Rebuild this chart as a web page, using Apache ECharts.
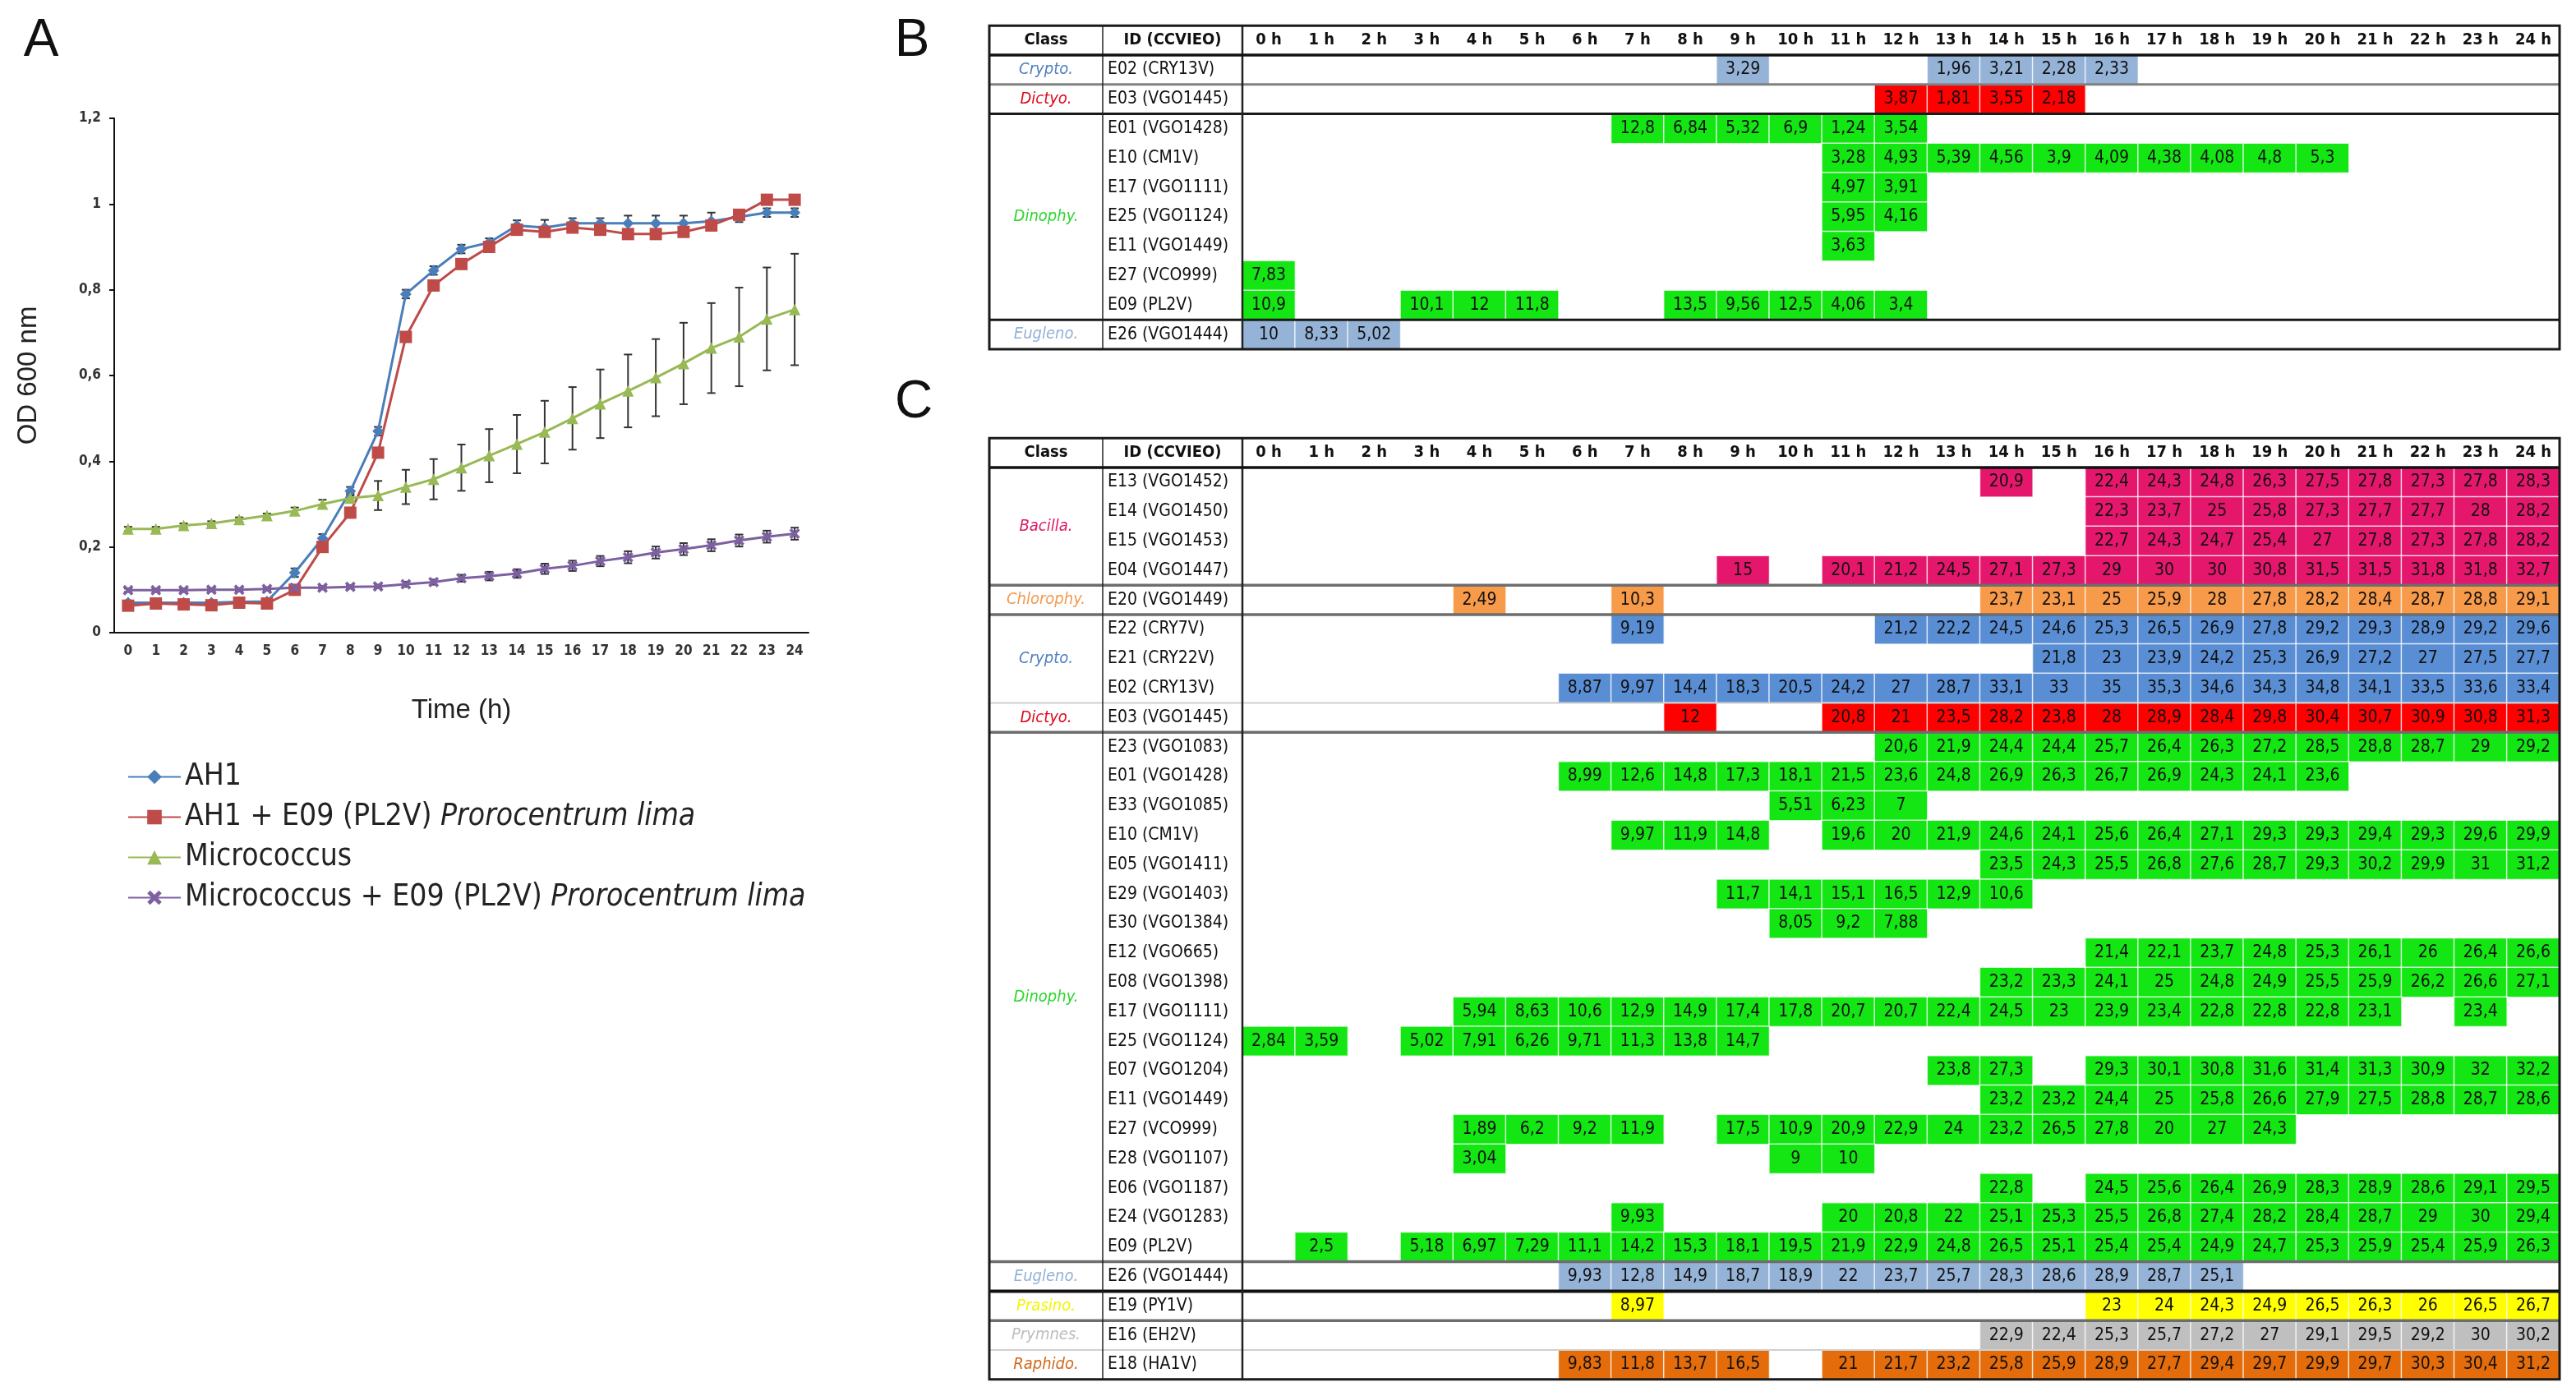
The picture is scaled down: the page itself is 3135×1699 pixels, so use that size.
<!DOCTYPE html>
<html>
<head>
<meta charset="utf-8">
<script src="https://cdn.jsdelivr.net/npm/echarts@6/dist/echarts.min.js"></script>
<style>
  html, body { margin: 0; background: #fff; }
  #main { width: 3135px; height: 1699px; }
</style>
</head>
<body>
<div id="main"></div>
<script>
// ---------- panel A : growth curves ----------
const timeTicks = ['0','1','2','3','4','5','6','7','8','9','10','11','12','13','14','15','16','17','18','19','20','21','22','23','24'];
const ah1 = [0.07,0.07,0.07,0.07,0.072,0.073,0.14,0.22,0.33,0.47,0.79,0.845,0.895,0.91,0.95,0.945,0.955,0.955,0.955,0.955,0.955,0.96,0.97,0.98,0.98];
const ah1Err = [0,0,0,0,0,0,0.01,0.01,0.01,0.01,0.01,0.01,0.01,0.01,0.012,0.018,0.012,0.012,0.018,0.018,0.018,0.02,0.012,0.01,0.01];
const ah1E09 = [0.063,0.068,0.066,0.064,0.07,0.068,0.1,0.2,0.28,0.42,0.69,0.81,0.86,0.9,0.94,0.935,0.945,0.94,0.93,0.93,0.935,0.95,0.975,1.01,1.01];
const micro = [0.242,0.242,0.25,0.255,0.264,0.273,0.284,0.3,0.314,0.32,0.34,0.358,0.385,0.413,0.44,0.468,0.5,0.534,0.564,0.595,0.628,0.664,0.69,0.732,0.754];
const microErr = [0.005,0.005,0.005,0.005,0.005,0.005,0.008,0.01,0.01,0.034,0.04,0.047,0.054,0.062,0.068,0.073,0.073,0.08,0.085,0.09,0.095,0.105,0.115,0.12,0.13];
const microE09 = [0.099,0.099,0.099,0.1,0.1,0.102,0.105,0.105,0.107,0.108,0.113,0.118,0.127,0.132,0.138,0.149,0.156,0.167,0.176,0.187,0.195,0.204,0.215,0.224,0.231];
const microE09Err = [0.004,0.004,0.004,0.004,0.004,0.004,0.004,0.004,0.004,0.004,0.006,0.006,0.008,0.01,0.01,0.012,0.012,0.012,0.014,0.014,0.014,0.014,0.014,0.014,0.014];
const seriesNames = ['AH1', 'AH1 + E09 (PL2V) Prorocentrum lima', 'Micrococcus', 'Micrococcus + E09 (PL2V) Prorocentrum lima'];

// ---------- tables B and C ----------
const hourLabels = ['0 h','1 h','2 h','3 h','4 h','5 h','6 h','7 h','8 h','9 h','10 h','11 h','12 h','13 h','14 h','15 h','16 h','17 h','18 h','19 h','20 h','21 h','22 h','23 h','24 h'];
const _ = null;

const bIds = ['E02 (CRY13V)','E03 (VGO1445)','E01 (VGO1428)','E10 (CM1V)','E17 (VGO1111)','E25 (VGO1124)','E11 (VGO1449)','E27 (VCO999)','E09 (PL2V)','E26 (VGO1444)'];
const bClass = ['Crypto.','Dictyo.','Dinophy.','Dinophy.','Dinophy.','Dinophy.','Dinophy.','Dinophy.','Dinophy.','Eugleno.'];
const bValues = [
  [_,_,_,_,_,_,_,_,_,3.29,_,_,_,1.96,3.21,2.28,2.33,_,_,_,_,_,_,_,_],
  [_,_,_,_,_,_,_,_,_,_,_,_,3.87,1.81,3.55,2.18,_,_,_,_,_,_,_,_,_],
  [_,_,_,_,_,_,_,12.8,6.84,5.32,6.9,1.24,3.54,_,_,_,_,_,_,_,_,_,_,_,_],
  [_,_,_,_,_,_,_,_,_,_,_,3.28,4.93,5.39,4.56,3.9,4.09,4.38,4.08,4.8,5.3,_,_,_,_],
  [_,_,_,_,_,_,_,_,_,_,_,4.97,3.91,_,_,_,_,_,_,_,_,_,_,_,_],
  [_,_,_,_,_,_,_,_,_,_,_,5.95,4.16,_,_,_,_,_,_,_,_,_,_,_,_],
  [_,_,_,_,_,_,_,_,_,_,_,3.63,_,_,_,_,_,_,_,_,_,_,_,_,_],
  [7.83,_,_,_,_,_,_,_,_,_,_,_,_,_,_,_,_,_,_,_,_,_,_,_,_],
  [10.9,_,_,10.1,12,11.8,_,_,13.5,9.56,12.5,4.06,3.4,_,_,_,_,_,_,_,_,_,_,_,_],
  [10,8.33,5.02,_,_,_,_,_,_,_,_,_,_,_,_,_,_,_,_,_,_,_,_,_,_]
];

const cIds = ['E13 (VGO1452)','E14 (VGO1450)','E15 (VGO1453)','E04 (VGO1447)','E20 (VGO1449)','E22 (CRY7V)','E21 (CRY22V)','E02 (CRY13V)','E03 (VGO1445)',
  'E23 (VGO1083)','E01 (VGO1428)','E33 (VGO1085)','E10 (CM1V)','E05 (VGO1411)','E29 (VGO1403)','E30 (VGO1384)','E12 (VGO665)','E08 (VGO1398)','E17 (VGO1111)',
  'E25 (VGO1124)','E07 (VGO1204)','E11 (VGO1449)','E27 (VCO999)','E28 (VGO1107)','E06 (VGO1187)','E24 (VGO1283)','E09 (PL2V)','E26 (VGO1444)','E19 (PY1V)','E16 (EH2V)','E18 (HA1V)'];
const cClass = ['Bacilla.','Bacilla.','Bacilla.','Bacilla.','Chlorophy.','Crypto.','Crypto.','Crypto.','Dictyo.',
  'Dinophy.','Dinophy.','Dinophy.','Dinophy.','Dinophy.','Dinophy.','Dinophy.','Dinophy.','Dinophy.','Dinophy.',
  'Dinophy.','Dinophy.','Dinophy.','Dinophy.','Dinophy.','Dinophy.','Dinophy.','Dinophy.','Eugleno.','Prasino.','Prymnes.','Raphido.'];
const cValues = [
  [_,_,_,_,_,_,_,_,_,_,_,_,_,_,20.9,_,22.4,24.3,24.8,26.3,27.5,27.8,27.3,27.8,28.3],
  [_,_,_,_,_,_,_,_,_,_,_,_,_,_,_,_,22.3,23.7,25,25.8,27.3,27.7,27.7,28,28.2],
  [_,_,_,_,_,_,_,_,_,_,_,_,_,_,_,_,22.7,24.3,24.7,25.4,27,27.8,27.3,27.8,28.2],
  [_,_,_,_,_,_,_,_,_,15,_,20.1,21.2,24.5,27.1,27.3,29,30,30,30.8,31.5,31.5,31.8,31.8,32.7],
  [_,_,_,_,2.49,_,_,10.3,_,_,_,_,_,_,23.7,23.1,25,25.9,28,27.8,28.2,28.4,28.7,28.8,29.1],
  [_,_,_,_,_,_,_,9.19,_,_,_,_,21.2,22.2,24.5,24.6,25.3,26.5,26.9,27.8,29.2,29.3,28.9,29.2,29.6],
  [_,_,_,_,_,_,_,_,_,_,_,_,_,_,_,21.8,23,23.9,24.2,25.3,26.9,27.2,27,27.5,27.7],
  [_,_,_,_,_,_,8.87,9.97,14.4,18.3,20.5,24.2,27,28.7,33.1,33,35,35.3,34.6,34.3,34.8,34.1,33.5,33.6,33.4],
  [_,_,_,_,_,_,_,_,12,_,_,20.8,21,23.5,28.2,23.8,28,28.9,28.4,29.8,30.4,30.7,30.9,30.8,31.3],
  [_,_,_,_,_,_,_,_,_,_,_,_,20.6,21.9,24.4,24.4,25.7,26.4,26.3,27.2,28.5,28.8,28.7,29,29.2],
  [_,_,_,_,_,_,8.99,12.6,14.8,17.3,18.1,21.5,23.6,24.8,26.9,26.3,26.7,26.9,24.3,24.1,23.6,_,_,_,_],
  [_,_,_,_,_,_,_,_,_,_,5.51,6.23,7,_,_,_,_,_,_,_,_,_,_,_,_],
  [_,_,_,_,_,_,_,9.97,11.9,14.8,_,19.6,20,21.9,24.6,24.1,25.6,26.4,27.1,29.3,29.3,29.4,29.3,29.6,29.9],
  [_,_,_,_,_,_,_,_,_,_,_,_,_,_,23.5,24.3,25.5,26.8,27.6,28.7,29.3,30.2,29.9,31,31.2],
  [_,_,_,_,_,_,_,_,_,11.7,14.1,15.1,16.5,12.9,10.6,_,_,_,_,_,_,_,_,_,_],
  [_,_,_,_,_,_,_,_,_,_,8.05,9.2,7.88,_,_,_,_,_,_,_,_,_,_,_,_],
  [_,_,_,_,_,_,_,_,_,_,_,_,_,_,_,_,21.4,22.1,23.7,24.8,25.3,26.1,26,26.4,26.6],
  [_,_,_,_,_,_,_,_,_,_,_,_,_,_,23.2,23.3,24.1,25,24.8,24.9,25.5,25.9,26.2,26.6,27.1],
  [_,_,_,_,5.94,8.63,10.6,12.9,14.9,17.4,17.8,20.7,20.7,22.4,24.5,23,23.9,23.4,22.8,22.8,22.8,23.1,_,23.4,_],
  [2.84,3.59,_,5.02,7.91,6.26,9.71,11.3,13.8,14.7,_,_,_,_,_,_,_,_,_,_,_,_,_,_,_],
  [_,_,_,_,_,_,_,_,_,_,_,_,_,23.8,27.3,_,29.3,30.1,30.8,31.6,31.4,31.3,30.9,32,32.2],
  [_,_,_,_,_,_,_,_,_,_,_,_,_,_,23.2,23.2,24.4,25,25.8,26.6,27.9,27.5,28.8,28.7,28.6],
  [_,_,_,_,1.89,6.2,9.2,11.9,_,17.5,10.9,20.9,22.9,24.0,23.2,26.5,27.8,20,27.0,24.3,_,_,_,_,_],
  [_,_,_,_,3.04,_,_,_,_,_,9,10,_,_,_,_,_,_,_,_,_,_,_,_,_],
  [_,_,_,_,_,_,_,_,_,_,_,_,_,_,22.8,_,24.5,25.6,26.4,26.9,28.3,28.9,28.6,29.1,29.5],
  [_,_,_,_,_,_,_,9.93,_,_,_,20,20.8,22,25.1,25.3,25.5,26.8,27.4,28.2,28.4,28.7,29,30,29.4],
  [_,2.5,_,5.18,6.97,7.29,11.1,14.2,15.3,18.1,19.5,21.9,22.9,24.8,26.5,25.1,25.4,25.4,24.9,24.7,25.3,25.9,25.4,25.9,26.3],
  [_,_,_,_,_,_,9.93,12.8,14.9,18.7,18.9,22,23.7,25.7,28.3,28.6,28.9,28.7,25.1,_,_,_,_,_,_],
  [_,_,_,_,_,_,_,8.97,_,_,_,_,_,_,_,_,23,24,24.3,24.9,26.5,26.3,26,26.5,26.7],
  [_,_,_,_,_,_,_,_,_,_,_,_,_,_,22.9,22.4,25.3,25.7,27.2,27,29.1,29.5,29.2,30,30.2],
  [_,_,_,_,_,_,9.83,11.8,13.7,16.5,_,21,21.7,23.2,25.8,25.9,28.9,27.7,29.4,29.7,29.9,29.7,30.3,30.4,31.2]
];

// ---------- styling ----------
const NARROW = "'Liberation Sans Narrow', 'DejaVu Sans Condensed', 'Liberation Sans', sans-serif";
const SANS = "'Liberation Sans', Arial, sans-serif";
const cellColor = {
  'Bacilla.': '#e5176c', 'Chlorophy.': '#f79a4a', 'Crypto.': '#5a8ed4', 'Dictyo.': '#fe0000',
  'Dinophy.': '#14e614', 'Eugleno.': '#95b3d7', 'Prasino.': '#ffff00', 'Prymnes.': '#bfbfbf', 'Raphido.': '#e46c0a'
};
const cellColorB = Object.assign({}, cellColor, { 'Crypto.': '#95b3d7' });
const labelColor = {
  'Bacilla.': '#dc1a66', 'Chlorophy.': '#f29a4e', 'Crypto.': '#4f7fc0', 'Dictyo.': '#dd0a1e',
  'Dinophy.': '#2fd62f', 'Eugleno.': '#93b1d6', 'Prasino.': '#f5f500', 'Prymnes.': '#bdbdbd', 'Raphido.': '#d2691e'
};
const fmt = v => String(v).replace('.', ',');

function heatData(values, classes, colors) {
  const out = [];
  values.forEach((row, r) => row.forEach((v, h) => {
    if (v !== null) out.push({ value: [h, r, v], itemStyle: { color: colors[classes[r]] } });
  }));
  return out;
}

function withErr(mean, err) {
  return mean.map((m, i) => [i, m - err[i], m + err[i]]);
}

function errorBars(color) {
  return function (params, api) {
    const x = api.value(0);
    const lo = api.coord([x, api.value(1)]);
    const hi = api.coord([x, api.value(2)]);
    const w = 5;
    const st = { stroke: color, lineWidth: 2 };
    return { type: 'group', children: [
      { type: 'line', shape: { x1: lo[0], y1: lo[1], x2: hi[0], y2: hi[1] }, style: st },
      { type: 'line', shape: { x1: hi[0] - w, y1: hi[1], x2: hi[0] + w, y2: hi[1] }, style: st },
      { type: 'line', shape: { x1: lo[0] - w, y1: lo[1], x2: lo[0] + w, y2: lo[1] }, style: st }
    ] };
  };
}

const lineColors = ['#4a7ebb', '#be4b48', '#98b954', '#7d60a0'];
const xSymbol = 'path://M2,0 L5,3 L8,0 L10,2 L7,5 L10,8 L8,10 L5,7 L2,10 L0,8 L3,5 L0,2 Z';

const tableX = { left: 1204, classRight: 1342, idRight: 1512, width: 1603 };
const ROW = 35.8;

function tableAxes(gi, ids) {
  return {
    x: { type: 'category', gridIndex: gi, data: hourLabels, position: 'top',
      axisLine: { show: false }, axisTick: { show: false }, splitLine: { show: false },
      axisLabel: { margin: ROW / 2, verticalAlign: 'middle', fontFamily: NARROW, fontWeight: 'bold', fontSize: 20, color: '#111' } },
    y: { type: 'category', gridIndex: gi, data: ids, inverse: true,
      axisLine: { show: false }, axisTick: { show: false }, splitLine: { show: false },
      axisLabel: { align: 'left', margin: tableX.idRight - tableX.classRight - 6, fontFamily: NARROW, fontSize: 21, color: '#111' } }
  };
}

const tb = tableAxes(1, bIds);
const tc = tableAxes(2, cIds);

function heatSeries(gi, data) {
  return {
    type: 'heatmap', xAxisIndex: gi, yAxisIndex: gi, data: data,
    itemStyle: { borderColor: 'rgba(255,255,255,0.75)', borderWidth: 1.5 },
    label: { show: true, formatter: p => fmt(p.value[2]), fontFamily: NARROW, fontSize: 21, color: '#111' },
    emphasis: { disabled: true }
  };
}

const chart = echarts.init(document.getElementById('main'));

chart.setOption({
  animation: false,
  backgroundColor: '#fff',
  grid: [
    { left: 139, top: 144, width: 845, height: 626 },
    { left: tableX.idRight, top: 67, width: tableX.width, height: ROW * bIds.length },
    { left: tableX.idRight, top: 569, width: tableX.width, height: ROW * cIds.length }
  ],
  xAxis: [
    { type: 'category', gridIndex: 0, data: timeTicks, boundaryGap: true,
      name: 'Time (h)', nameLocation: 'middle', nameGap: 78,
      nameTextStyle: { fontFamily: SANS, fontSize: 33, color: '#222' },
      axisLine: { lineStyle: { color: '#111', width: 2 } },
      axisTick: { length: 6, lineStyle: { color: '#111', width: 2 } },
      axisLabel: { fontFamily: NARROW, fontSize: 17, fontWeight: 'bold', color: '#333', margin: 14, interval: 0 } },
    tb.x, tc.x
  ],
  yAxis: [
    { type: 'value', gridIndex: 0, min: 0, max: 1.2, interval: 0.2,
      name: 'OD 600 nm', nameLocation: 'middle', nameGap: 88, nameRotate: 90,
      nameTextStyle: { fontFamily: SANS, fontSize: 33, color: '#222' },
      axisLine: { show: true, lineStyle: { color: '#111', width: 2 } },
      axisTick: { show: true, length: 6, lineStyle: { color: '#111', width: 2 } },
      splitLine: { show: false },
      axisLabel: { formatter: v => fmt(Math.round(v * 10) / 10), fontFamily: NARROW, fontSize: 17, fontWeight: 'bold', color: '#333', margin: 16 } },
    tb.y, tc.y
  ],
  legend: {
    data: seriesNames, orient: 'vertical', left: 150, top: 922, itemWidth: 64, itemHeight: 22, itemGap: 12,
    formatter: name => {
      const k = name.indexOf('Prorocentrum');
      return k < 0 ? '{n|' + name + '}' : '{n|' + name.slice(0, k) + '}{i|' + name.slice(k) + '}';
    },
    textStyle: { fontFamily: NARROW, fontSize: 37, color: '#222',
      rich: { n: { fontFamily: NARROW, fontSize: 37, color: '#222' }, i: { fontFamily: NARROW, fontSize: 37, fontStyle: 'italic', color: '#222' } } }
  },
  series: [
    { type: 'custom', xAxisIndex: 0, yAxisIndex: 0, renderItem: errorBars('#333'), data: withErr(micro, microErr), z: 1, silent: true },
    { type: 'custom', xAxisIndex: 0, yAxisIndex: 0, renderItem: errorBars('#333'), data: withErr(microE09, microE09Err), z: 1, silent: true },
    { type: 'custom', xAxisIndex: 0, yAxisIndex: 0, renderItem: errorBars('#333'), data: withErr(ah1, ah1Err), z: 1, silent: true },
    { name: seriesNames[0], type: 'line', data: ah1, color: lineColors[0], symbol: 'diamond', symbolSize: 14, lineStyle: { width: 3 }, z: 3 },
    { name: seriesNames[1], type: 'line', data: ah1E09, color: lineColors[1], symbol: 'rect', symbolSize: 15, lineStyle: { width: 3 }, z: 3 },
    { name: seriesNames[2], type: 'line', data: micro, color: lineColors[2], symbol: 'triangle', symbolSize: 14, lineStyle: { width: 3 }, z: 3 },
    { name: seriesNames[3], type: 'line', data: microE09, color: lineColors[3], symbol: xSymbol, symbolSize: 13, lineStyle: { width: 3 }, z: 3 },
    heatSeries(1, heatData(bValues, bClass, cellColorB)),
    heatSeries(2, heatData(cValues, cClass, cellColor))
  ]
});

// table frame, class labels and headers
function tableGraphics(gi, ids, classes, sepStyle) {
  const p0 = chart.convertToPixel({ gridIndex: gi }, [0, 0]);
  const p1 = chart.convertToPixel({ gridIndex: gi }, [24, 1]);
  const rowH = p1[1] - p0[1];
  const colW = (p1[0] - p0[0]) / 24;
  const top = p0[1] - rowH / 2;
  const headTop = top - rowH;
  const right = p1[0] + colW / 2;
  const bottom = top + rowH * ids.length;
  const L = tableX.left, CR = tableX.classRight, IR = tableX.idRight;
  const els = [];
  const line = (x1, y1, x2, y2, stroke, w) => els.push({ type: 'line', z: 50, shape: { x1, y1, x2, y2 }, style: { stroke, lineWidth: w } });
  const text = (x, y, t, style) => els.push({ type: 'text', z: 51, x, y, style: Object.assign({ text: t, align: 'center', verticalAlign: 'middle' }, style) });

  text((L + CR) / 2, headTop + rowH / 2, 'Class', { fontFamily: NARROW, fontWeight: 'bold', fontSize: 20, fill: '#111' });
  text((CR + IR) / 2, headTop + rowH / 2, 'ID (CCVIEO)', { fontFamily: NARROW, fontWeight: 'bold', fontSize: 20, fill: '#111' });

  let start = 0;
  for (let r = 1; r <= classes.length; r++) {
    if (r === classes.length || classes[r] !== classes[start]) {
      const c = classes[start];
      text((L + CR) / 2, top + (start + (r - start) / 2) * rowH, c,
        { fontFamily: NARROW, fontStyle: 'italic', fontSize: 20, fill: labelColor[c] });
      if (r < classes.length) {
        const s = sepStyle(c, classes[r]);
        line(L, top + r * rowH, right, top + r * rowH, s[0], s[1]);
      }
      start = r;
    }
  }
  line(CR, headTop, CR, bottom, '#222', 1.5);
  line(IR, headTop, IR, bottom, '#222', 2.5);
  line(L, top, right, top, '#111', 3.5);
  els.push({ type: 'rect', z: 52, shape: { x: L, y: headTop, width: right - L, height: bottom - headTop },
    style: { fill: 'none', stroke: '#1a1a1a', lineWidth: 3 } });
  return els;
}

const sepB = (a) => a === 'Crypto.' ? ['#808080', 3] : ['#1a1a1a', 3];
const sepC = (a, b) => {
  if (a === 'Eugleno.') return ['#111', 4];
  if (a === 'Crypto.' || a === 'Prymnes.') return ['#d0d0d0', 2];
  return ['#6d6d6d', 3.5];
};

const letters = [
  { type: 'text', x: 50, y: 50, style: { text: 'A', fontFamily: SANS, fontSize: 64, fill: '#111', align: 'center', verticalAlign: 'middle' } },
  { type: 'text', x: 1110, y: 50, style: { text: 'B', fontFamily: SANS, fontSize: 64, fill: '#111', align: 'center', verticalAlign: 'middle' } },
  { type: 'text', x: 1112, y: 490, style: { text: 'C', fontFamily: SANS, fontSize: 64, fill: '#111', align: 'center', verticalAlign: 'middle' } }
];

chart.setOption({
  graphic: letters.concat(tableGraphics(1, bIds, bClass, sepB), tableGraphics(2, cIds, cClass, sepC))
});
</script>
</body>
</html>
